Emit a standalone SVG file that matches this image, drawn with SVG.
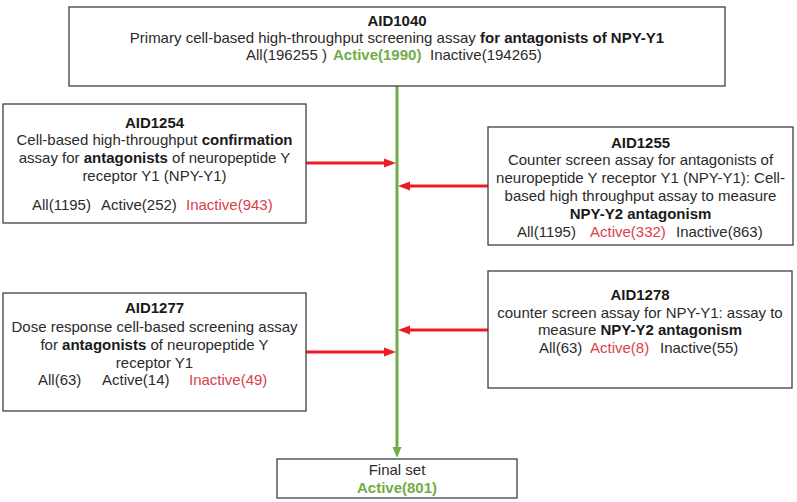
<svg xmlns="http://www.w3.org/2000/svg" width="797" height="502" viewBox="0 0 797 502">
<style>
  .box { fill: #ffffff; stroke: #404040; stroke-width: 1.3; }
  text { font-family: "Liberation Sans", Arial, sans-serif; font-size: 15px; fill: #2b2b2b; }
  .c { text-anchor: middle; }
  .b { font-weight: bold; fill: #1a1a1a; }
  .g { fill: #70ad47; }
  .r { fill: #d9414a; }
  .red { stroke: #ee1c25; stroke-width: 3; fill: none; }
  .grn { stroke: #70ad47; stroke-width: 3; fill: none; }
</style>
<defs>
  <marker id="ar" markerUnits="userSpaceOnUse" markerWidth="13" markerHeight="10" refX="4" refY="5" orient="auto">
    <path d="M0,0.5 L12,5 L0,9.5 z" fill="#ee1c25"/>
  </marker>
  <marker id="ag" markerUnits="userSpaceOnUse" markerWidth="10" markerHeight="11" refX="4" refY="5" orient="auto">
    <path d="M0,0.5 L11,5 L0,9.5 z" fill="#70ad47"/>
  </marker>
</defs>
<rect width="797" height="502" fill="#ffffff"/>

<g id="connectors">
  <line class="grn" x1="397" y1="86" x2="397" y2="451" marker-end="url(#ag)"/>
  <line class="red" x1="306" y1="163" x2="388" y2="163" marker-end="url(#ar)"/>
  <line class="red" x1="488" y1="186" x2="406" y2="186" marker-end="url(#ar)"/>
  <line class="red" x1="488" y1="330" x2="406" y2="330" marker-end="url(#ar)"/>
  <line class="red" x1="306" y1="352" x2="388" y2="352" marker-end="url(#ar)"/>
</g>

<g id="AID1040">
  <rect class="box" x="69" y="7" width="656" height="79"/>
  <text class="c b" x="397" y="26">AID1040</text>
  <text class="c" x="397" y="43">Primary cell-based high-throughput screening assay <tspan class="b">for antagonists of NPY-Y1</tspan></text>
  <text x="246" y="60">All(196255 )</text>
  <text class="g b" x="333" y="60">Active(1990)</text>
  <text x="430" y="60">Inactive(194265)</text>
</g>

<g id="AID1254">
  <rect class="box" x="3" y="104" width="303" height="119"/>
  <text class="c b" x="154.5" y="128">AID1254</text>
  <text class="c" x="154.5" y="145">Cell-based high-throughput <tspan class="b">confirmation</tspan></text>
  <text class="c" x="154.5" y="163">assay for <tspan class="b">antagonists</tspan> of neuropeptide Y</text>
  <text class="c" x="154.5" y="181">receptor Y1 (NPY-Y1)</text>
  <text x="32" y="210">All(1195)</text>
  <text x="101" y="210">Active(252)</text>
  <text class="r" x="186" y="210">Inactive(943)</text>
</g>

<g id="AID1255">
  <rect class="box" x="488" y="127" width="305" height="118"/>
  <text class="c b" x="640.5" y="148">AID1255</text>
  <text class="c" x="640.5" y="165">Counter screen assay for antagonists of</text>
  <text class="c" x="640.5" y="183">neuropeptide Y receptor Y1 (NPY-Y1): Cell-</text>
  <text class="c" x="640.5" y="201">based high throughput assay to measure</text>
  <text class="c b" x="640.5" y="219">NPY-Y2 antagonism</text>
  <text x="517" y="237">All(1195)</text>
  <text class="r" x="590" y="237">Active(332)</text>
  <text x="676" y="237">Inactive(863)</text>
</g>

<g id="AID1277">
  <rect class="box" x="3" y="293" width="303" height="118"/>
  <text class="c b" x="154.5" y="313">AID1277</text>
  <text class="c" x="154.5" y="332">Dose response cell-based screening assay</text>
  <text class="c" x="154.5" y="350">for <tspan class="b">antagonists</tspan> of neuropeptide Y</text>
  <text class="c" x="154.5" y="368">receptor Y1</text>
  <text x="38" y="385">All(63)</text>
  <text x="102" y="385">Active(14)</text>
  <text class="r" x="189" y="385">Inactive(49)</text>
</g>

<g id="AID1278">
  <rect class="box" x="488" y="271" width="304" height="117"/>
  <text class="c b" x="640" y="300">AID1278</text>
  <text class="c" x="640" y="318">counter screen assay for NPY-Y1: assay to</text>
  <text class="c" x="640" y="335">measure <tspan class="b">NPY-Y2 antagonism</tspan></text>
  <text x="539" y="353">All(63)</text>
  <text class="r" x="590" y="353">Active(8)</text>
  <text x="660" y="353">Inactive(55)</text>
</g>

<g id="final">
  <rect class="box" x="277" y="459" width="240" height="39"/>
  <text class="c" x="397" y="475">Final set</text>
  <text class="c b g" x="397" y="493">Active(801)</text>
</g>
</svg>
